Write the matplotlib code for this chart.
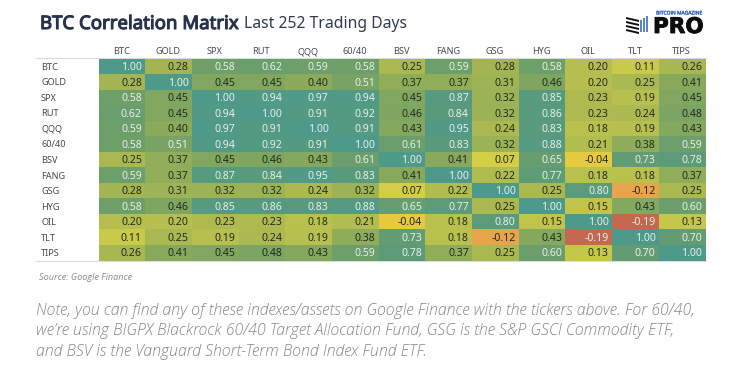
import matplotlib
matplotlib.use("Agg")
import matplotlib.pyplot as plt
import matplotlib.patheffects as pe
from matplotlib.colors import LinearSegmentedColormap, Normalize
from matplotlib.patches import Polygon, Rectangle
import numpy as np

W, H = 743, 375

labels = ["BTC", "GOLD", "SPX", "RUT", "QQQ", "60/40", "BSV", "FANG", "GSG", "HYG", "OIL", "TLT", "TIPS"]

btc = [1.00, 0.28, 0.58, 0.62, 0.59, 0.58, 0.25, 0.59, 0.28, 0.58, 0.20, 0.11, 0.26]
gold = [0.28, 1.00, 0.45, 0.45, 0.40, 0.51, 0.37, 0.37, 0.31, 0.46, 0.20, 0.25, 0.41]
spx = [0.58, 0.45, 1.00, 0.94, 0.97, 0.94, 0.45, 0.87, 0.32, 0.85, 0.23, 0.19, 0.45]
rut = [0.62, 0.45, 0.94, 1.00, 0.91, 0.92, 0.46, 0.84, 0.32, 0.86, 0.23, 0.24, 0.48]
qqq = [0.59, 0.40, 0.97, 0.91, 1.00, 0.91, 0.43, 0.95, 0.24, 0.83, 0.18, 0.19, 0.43]
sixty_forty = [0.58, 0.51, 0.94, 0.92, 0.91, 1.00, 0.61, 0.83, 0.32, 0.88, 0.21, 0.38, 0.59]
bsv = [0.25, 0.37, 0.45, 0.46, 0.43, 0.61, 1.00, 0.41, 0.07, 0.65, -0.04, 0.73, 0.78]
fang = [0.59, 0.37, 0.87, 0.84, 0.95, 0.83, 0.41, 1.00, 0.22, 0.77, 0.18, 0.18, 0.37]
gsg = [0.28, 0.31, 0.32, 0.32, 0.24, 0.32, 0.07, 0.22, 1.00, 0.25, 0.80, -0.12, 0.25]
hyg = [0.58, 0.46, 0.85, 0.86, 0.83, 0.88, 0.65, 0.77, 0.25, 1.00, 0.15, 0.43, 0.60]
oil = [0.20, 0.20, 0.23, 0.23, 0.18, 0.21, -0.04, 0.18, 0.80, 0.15, 1.00, -0.19, 0.13]
tlt = [0.11, 0.25, 0.19, 0.24, 0.19, 0.38, 0.73, 0.18, -0.12, 0.43, -0.19, 1.00, 0.70]
tips = [0.26, 0.41, 0.45, 0.48, 0.43, 0.59, 0.78, 0.37, 0.25, 0.60, 0.13, 0.70, 1.00]

matrix = np.array([btc, gold, spx, rut, qqq, sixty_forty, bsv, fang, gsg, hyg, oil, tlt, tips])

note_lines = [
    "Note, you can find any of these indexes/assets on Google Finance with the tickers above. For 60/40,",
    "we\u2019re using BIGPX Blackrock 60/40 Target Allocation Fund, GSG is the S&P GSCI Commodity ETF,",
    "and BSV is the Vanguard Short-Term Bond Index Fund ETF.",
]

# colour stops
vmin, vmax = -0.19, 1.0
stops = [
    (-0.19, "#c4694f"), (-0.12, "#e8a44c"), (-0.04, "#e6c93f"), (0.07, "#d2cd47"),
    (0.11, "#c9c94a"), (0.25, "#a9b851"), (0.45, "#80a65f"), (0.60, "#6b9e6b"),
    (0.85, "#589a7d"), (1.00, "#4d9a8a"),
]
cmap = LinearSegmentedColormap.from_list("corr", [((v - vmin) / (vmax - vmin), c) for v, c in stops])

fig = plt.figure(figsize=(W / 100, H / 100), dpi=100, facecolor="white")

# overlay in pixel coordinates for the title, notes and logo
page = fig.add_axes([0, 0, 1, 1])
page.set_xlim(0, W)
page.set_ylim(H, 0)
page.axis("off")

left, right, top, bottom = 98.5, 705.5, 58.5, 260.5
ax = fig.add_axes([left / W, 1 - bottom / H, (right - left) / W, (bottom - top) / H])
n = len(labels)
ax.pcolormesh(np.arange(n + 1), np.arange(n + 1), matrix, cmap=cmap, norm=Normalize(vmin, vmax))
ax.set_xlim(0, n)
ax.set_ylim(n, 0)
ax.axis("off")

for r in range(n):
    for c in range(n):
        v = matrix[r, c]
        color = "#e9f0ea" if v >= 0.5 or v <= -0.19 else "#222a1e"
        ax.text(c + 0.93, r + 0.58, f"{v:.2f}", ha="right", va="center", fontsize=7.6,
                family="Noto Sans", color=color)

# header and row labels
for i, lab in enumerate(labels):
    x = left + (right - left) * (i + 0.5) / n
    page.text(x - 0.5, 51.5, lab, ha="center", va="center", fontsize=6.6, family="Noto Sans", color="#444a50")
    y = top + (bottom - top) * (i + 0.5) / n
    page.text(41, y + 1, lab, ha="left", va="center", fontsize=6.6, family="Noto Sans", color="#444a50")

page.plot([36, right], [58.3, 58.3], color="#dcdcdc", lw=0.8)
page.plot([36, right], [261, 261], color="#dcdcdc", lw=0.8)

# title, thickened with a stroke since the bold face does not resolve
page.text(40, 24, "BTC Correlation Matrix", ha="left", va="center", fontsize=13.4,
          family="Noto Sans", color="#27334d",
          path_effects=[pe.withStroke(linewidth=0.8, foreground="#27334d")])
page.text(244.5, 24.5, "Last 252 Trading Days", ha="left", va="center", fontsize=11.3,
          family="Noto Sans", color="#2f3a50")

# logo
page.text(679, 13, "BITCOIN MAGAZINE", ha="center", va="center", fontsize=3.6,
          family="Open Sans", color="#3f6fc4",
          path_effects=[pe.withStroke(linewidth=0.3, foreground="#3f6fc4")])
page.text(653, 33, "PRO", ha="left", va="baseline", fontsize=15.5, family="DejaVu Sans", weight="bold",
          color="#0c0c0c", path_effects=[pe.withStroke(linewidth=0.6, foreground="#0c0c0c")])
for yy in (17, 21, 25, 29):
    page.add_patch(Polygon([(626, yy), (639, yy + 3), (639, yy + 5), (626, yy + 2)], color="#111111", lw=0))
for xx, y0 in zip((639.5, 642.5, 645.5), (20, 18, 16)):
    page.add_patch(Rectangle((xx, y0), 2, 32 - y0, color="#5a84d0", lw=0))

page.text(39, 277, "Source: Google Finance", ha="left", va="center", fontsize=6.6,
          family="Open Sans", style="italic", color="#8a8a8a")

for i, line in enumerate(note_lines):
    page.text(36, 311 + i * 20.3, line, ha="left", va="center", fontsize=11.4,
              family="Open Sans", style="italic", weight="light", color="#858585")

fig.savefig("out.png", dpi=100)
